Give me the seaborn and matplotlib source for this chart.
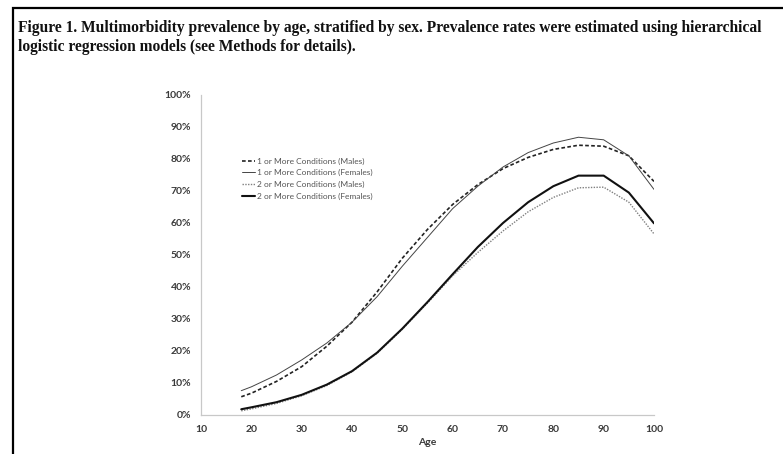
import matplotlib
matplotlib.use('Agg')
import matplotlib.pyplot as plt
import seaborn as sns
from matplotlib.ticker import PercentFormatter
from matplotlib.patches import Rectangle

# Werte (Prävalenz in %)
ages = [18, 20, 25, 30, 35, 40, 45, 50, 55, 60, 65, 70, 75, 80, 85, 90, 95, 100]
one_plus_males = [5.7, 6.8, 10.5, 15.1, 21.5, 29.0, 38.5, 49.0, 58.0, 65.8, 72.0, 77.0,
                  80.5, 83.0, 84.3, 84.0, 81.0, 73.0]
one_plus_females = [7.6, 8.8, 12.5, 17.2, 22.5, 29.0, 37.0, 46.5, 55.5, 64.5, 71.5, 77.5,
                    82.0, 85.0, 86.8, 86.0, 81.0, 70.5]
two_plus_males = [1.3, 1.9, 3.6, 6.0, 9.2, 13.5, 19.3, 26.8, 35.0, 43.5, 50.8, 57.5,
                  63.5, 68.0, 71.0, 71.2, 66.5, 56.6]
two_plus_females = [1.8, 2.4, 4.0, 6.3, 9.5, 13.7, 19.5, 27.0, 35.3, 44.0, 52.5, 60.0,
                    66.5, 71.5, 74.8, 74.8, 69.5, 59.9]

labels = ['1 or More Conditions (Males)', '1 or More Conditions (Females)',
          '2 or More Conditions (Males)', '2 or More Conditions (Females)']
x_ticks = [10, 20, 30, 40, 50, 60, 70, 80, 90, 100]
y_ticks = [0, 10, 20, 30, 40, 50, 60, 70, 80, 90, 100]

sns.set_style('white')
plt.rcParams['font.family'] = ['Lato', 'DejaVu Sans']

fig = plt.figure(figsize=(7.83, 4.54), dpi=100)
ax = fig.add_axes([201 / 783, 39 / 454, 453 / 783, 320 / 454])

# Linien
styles = [
    dict(color='#222222', lw=1.2, ls=(0, (2.2, 1.4))),
    dict(color='#444444', lw=0.7, ls='-'),
    dict(color='#808080', lw=1.0, ls=(0, (1, 1))),
    dict(color='#111111', lw=1.5, ls='-'),
]
series = [one_plus_males, one_plus_females, two_plus_males, two_plus_females]
for vals, lab, st in zip(series, labels, styles):
    sns.lineplot(x=ages, y=vals, ax=ax, label=lab, color=st['color'],
                 linewidth=st['lw'], linestyle=st['ls'])

ax.set_xlim(10, 100)
ax.set_ylim(0, 100)
ax.set_xticks(x_ticks)
ax.set_yticks(y_ticks)
ax.yaxis.set_major_formatter(PercentFormatter(100, decimals=0))

for side in ['top', 'right']:
    ax.spines[side].set_visible(False)
for side in ['left', 'bottom']:
    ax.spines[side].set_color('#c8c8c8')
    ax.spines[side].set_linewidth(0.9)
ax.tick_params(axis='both', which='major', length=3, width=0.8, color='#c8c8c8',
               labelsize=7.5, labelcolor='#3a3a3a', pad=4)
for t in ax.get_xticklabels() + ax.get_yticklabels():
    t.set_fontweight('bold')
ax.set_xlabel('Age', fontsize=7.5, color='#3a3a3a', fontweight='bold', labelpad=3)
ax.set_ylabel('')

leg = ax.legend(loc='upper left', bbox_to_anchor=(0.09, 0.805), frameon=False,
                fontsize=6.0, handlelength=1.6, handletextpad=0.2,
                labelspacing=0.55, borderpad=0, borderaxespad=0)
for t in leg.get_texts():
    t.set_color('#555555')

# Titel
title1 = ('Figure 1. Multimorbidity prevalence by age, stratified by sex. '
          'Prevalence rates were estimated using hierarchical')
title2 = 'logistic regression models (see Methods for details).'
fig.text(18 / 783, 1 - 28 / 454, title1, family=['Liberation Serif'], fontweight='bold',
         fontsize=11.2, va='center', ha='left', color='#111111')
fig.text(18 / 783, 1 - 47 / 454, title2, family=['Liberation Serif'], fontweight='bold',
         fontsize=11.2, va='center', ha='left', color='#111111')

# Rahmen
fig.patches.append(Rectangle((13 / 783, -0.05), 1.1, 1 - 8 / 454 + 0.05,
                             transform=fig.transFigure, fill=False,
                             edgecolor='black', linewidth=1.6))

fig.savefig('out.png', dpi=100)
